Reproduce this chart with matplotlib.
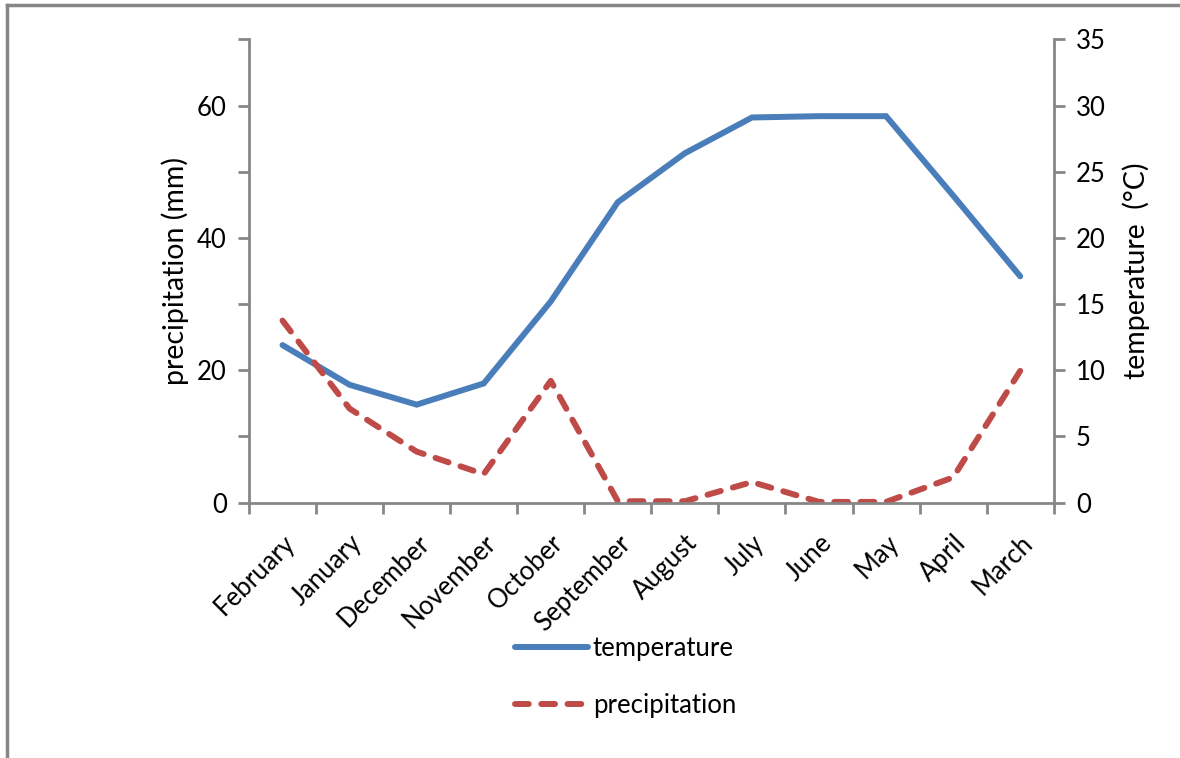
import matplotlib.pyplot as plt
from matplotlib.lines import Line2D

months = ['February', 'January', 'December', 'November', 'October', 'September',
          'August', 'July', 'June', 'May', 'April', 'March']
temperature = [11.9, 8.9, 7.4, 9.0, 15.2, 22.7, 26.4, 29.1, 29.2, 29.2, 23.2, 17.1]
precipitation = [27.5, 14.2, 7.7, 4.3, 18.4, 0.2, 0.2, 3.1, 0.1, 0.1, 3.8, 19.9]

plt.rcParams['font.family'] = ['Lato', 'DejaVu Sans']
blue = '#4A7EBB'
red = '#BE4B48'
grey = '#868686'
fs = 18.5

fig = plt.figure(figsize=(11.8, 7.58), dpi=100)
ax = fig.add_axes([0.211, 0.337, 0.682, 0.611])
ax2 = ax.twinx()

x = range(len(months))
ax.plot(x, precipitation, color=red, lw=4.3, dashes=(2.3, 2.1),
        dash_capstyle='round')
ax2.plot(x, temperature, color=blue, lw=4.3, solid_capstyle='round',
         solid_joinstyle='miter')
# temperature drawn on top of precipitation
ax.set_zorder(2)
ax.patch.set_visible(False)
ax2.set_zorder(1)

ax.set_xlim(-0.5, len(months) - 0.5)
ax.set_ylim(0, 70)
ax2.set_ylim(0, 35)

ax.set_yticks(range(0, 71, 10))
ax.set_yticklabels([str(v) if v % 20 == 0 else '' for v in range(0, 71, 10)])
ax2.set_yticks(range(0, 36, 5))

# category ticks sit between months, labels at the centres
ax.set_xticks([i - 0.5 for i in range(len(months) + 1)])
ax.set_xticklabels([])
ax.set_xticks(list(x), minor=True)
ax.set_xticklabels(months, minor=True, rotation=45, ha='right',
                   rotation_mode='anchor', fontsize=fs)
ax.tick_params(axis='x', which='minor', length=0, pad=20)
ax.tick_params(axis='x', which='major', length=8, width=2, color=grey,
               direction='out')

for a in (ax, ax2):
    for s in a.spines.values():
        s.set_visible(False)
    a.tick_params(axis='y', length=8, width=2, color=grey, labelsize=fs,
                  pad=8)
ax.spines['left'].set_visible(True)
ax.spines['bottom'].set_visible(True)
ax2.spines['right'].set_visible(True)
for s in (ax.spines['left'], ax.spines['bottom'], ax2.spines['right']):
    s.set_color(grey)
    s.set_linewidth(2)

ax.set_ylabel('precipitation (mm)', fontsize=20.5, labelpad=6)
ax2.set_ylabel('temperature  (°C)', fontsize=20.5, labelpad=12)

handles = [Line2D([], [], color=blue, lw=4.3, solid_capstyle='round'),
           Line2D([], [], color=red, lw=4.3, dashes=(2.3, 2.1),
                  dash_capstyle='round')]
fig.legend(handles, ['temperature', 'precipitation'], loc='center',
           bbox_to_anchor=(0.53, 0.107), frameon=False, fontsize=fs,
           handlelength=2.85, handletextpad=0.2, labelspacing=1.25)

# outer frame of the chart area
fig.add_artist(Line2D([7 / 1180, 1.0], [1 - 5 / 758, 1 - 5 / 758],
                      transform=fig.transFigure, color=grey, lw=2.5))
fig.add_artist(Line2D([7 / 1180, 7 / 1180], [0, 1 - 5 / 758],
                      transform=fig.transFigure, color=grey, lw=2.5))

fig.savefig('out.png', dpi=100)
